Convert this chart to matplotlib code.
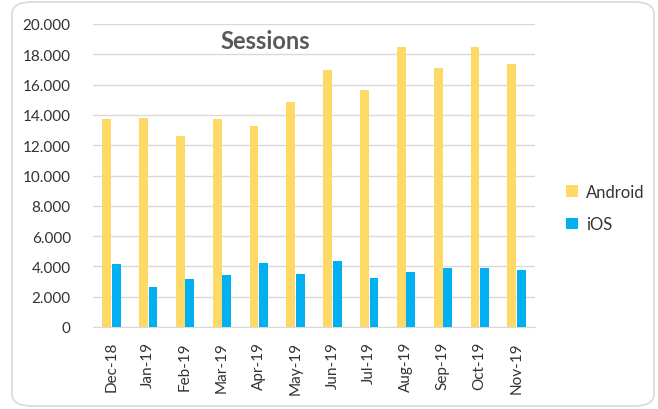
import matplotlib
matplotlib.use("Agg")
import matplotlib.pyplot as plt
import numpy as np
from matplotlib.patches import FancyBboxPatch
from matplotlib.ticker import FuncFormatter

# data
months = ["Dec-18", "Jan-19", "Feb-19", "Mar-19", "Apr-19", "May-19",
          "Jun-19", "Jul-19", "Aug-19", "Sep-19", "Oct-19", "Nov-19"]
android = [13730, 13810, 12600, 13730, 13250, 14830,
           16960, 15660, 18460, 17070, 18460, 17340]
ios = [4140, 2660, 3150, 3410, 4240, 3500,
       4340, 3210, 3610, 3870, 3870, 3760]

plt.rcParams['font.family'] = ['Lato', 'DejaVu Sans']

fig = plt.figure(figsize=(6.58, 4.10), dpi=100)

# rounded chart frame like Excel
frame = FancyBboxPatch((12 / 658, 3 / 410), 642 / 658, 404 / 410,
                       boxstyle="round,pad=0,rounding_size=0.03",
                       transform=fig.transFigure, facecolor="none",
                       edgecolor="#D9D9D9", linewidth=1.2)
fig.patches.append(frame)

ax = fig.add_axes([93 / 658, 82 / 410, 442 / 658, 303 / 410])
ax.set_facecolor("none")

x = np.arange(len(months))
w = 0.24
ax.bar(x - 0.13, android, w, color="#FFD966", label="Android", zorder=3)
ax.bar(x + 0.13, ios, w, color="#00B0F0", label="iOS", zorder=3)

ax.set_xlim(-0.5, len(months) - 0.5)
ax.set_ylim(0, 20000)
ax.set_yticks(np.arange(0, 20001, 2000))
ax.yaxis.set_major_formatter(FuncFormatter(lambda v, p: f"{int(v):,}".replace(",", ".")))
ax.set_xticks(x)
ax.set_xticklabels(months, rotation=90)

ax.grid(axis="y", color="#D9D9D9", linewidth=1, zorder=0)
for s in ["top", "right", "left"]:
    ax.spines[s].set_visible(False)
ax.spines["bottom"].set_color("#D9D9D9")
ax.tick_params(axis="both", length=0, labelsize=11, colors="#333333")
ax.tick_params(axis="y", pad=16)
ax.tick_params(axis="x", pad=10)

ax.text(0.389, 0.944, "Sessions", transform=ax.transAxes, ha="center", va="center",
        fontsize=17, fontweight="bold", color="#595959")

fig.legend(loc="center left", bbox_to_anchor=(551 / 658, 1 - 209 / 410),
           frameon=False, fontsize=12, handlelength=0.7, handleheight=0.7,
           labelspacing=1.0, handletextpad=0.5, labelcolor="#333333")

fig.savefig("out.png", dpi=100)
